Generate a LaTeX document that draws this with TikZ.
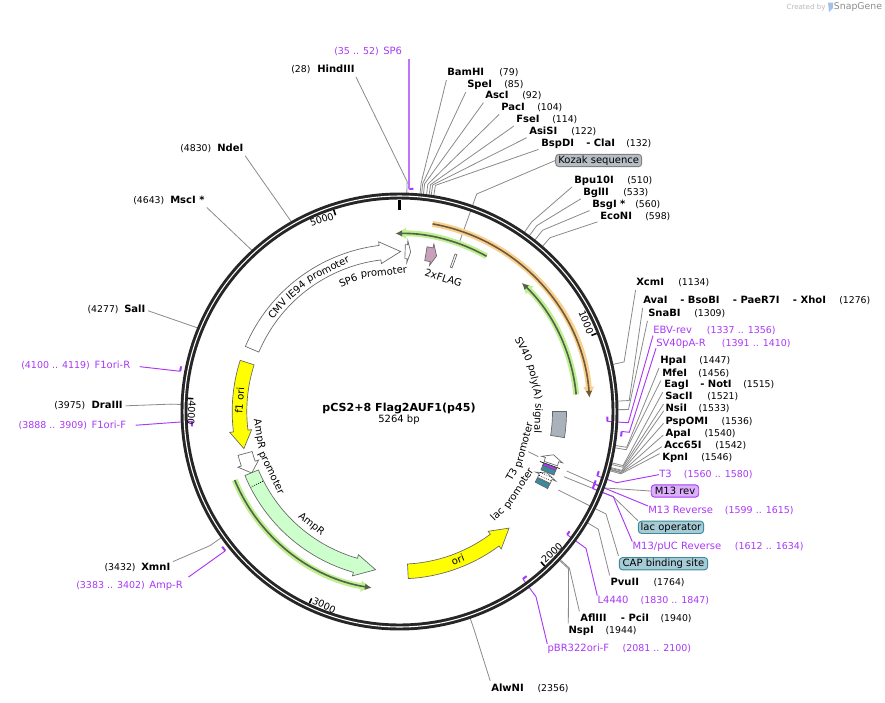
\documentclass[tikz,border=0pt]{standalone}
\usepackage{fontspec}
\setmainfont{DejaVu Sans}
\usepackage{xcolor}
\definecolor{cprim}{HTML}{A838F5}
\definecolor{csite}{HTML}{8A8A8A}
\definecolor{cring}{HTML}{262626}
\definecolor{cyel}{HTML}{FFFF00}
\definecolor{camp}{HTML}{CCFFCC}
\definecolor{cgrn}{HTML}{BDF08F}
\definecolor{cgrd}{HTML}{55614A}
\definecolor{corg}{HTML}{FAD08F}
\definecolor{cord}{HTML}{6E5A3A}
\definecolor{cflag}{HTML}{C9A0BC}
\definecolor{cgry}{HTML}{A9B1BA}
\definecolor{cteal}{HTML}{3A8BA0}
\usetikzlibrary{arrows.meta}
\newlength{\pxu}
\setlength{\pxu}{.75pt}
\newcommand{\labfont}{\fontsize{7.5}{9}\selectfont}
\newcommand{\numfont}{\fontsize{7}{9}\selectfont}
\newcommand{\rngfont}{\fontsize{7.1}{9}\selectfont}
% name, then its number at a fixed distance
\newcommand{\enz}[3]{\makebox[#1\pxu][l]{\bfseries #2}{\numfont(#3)}}
\newcommand{\enzl}[3]{\makebox[#1\pxu][l]{\numfont(#2)}{\bfseries #3}}
\newcommand{\prm}[3]{\makebox[#1\pxu][l]{#2}{\rngfont(#3)}}
\newcommand{\prml}[3]{\makebox[#1\pxu][l]{\rngfont(#2)}#3}
\newcommand{\sub}[2]{\makebox[#1\pxu][l]{#2}}
% [style] base angle, head angle, tip angle, radius, half width, half head
\newcommand{\featarrow}[7][]{%
  \pgfmathsetmacro{\rIn}{#5-#6}\pgfmathsetmacro{\rOut}{#5+#6}%
  \pgfmathsetmacro{\fIn}{#5-#7}\pgfmathsetmacro{\fOut}{#5+#7}%
  \draw[feat,#1] (#2:\rOut) arc[start angle=#2,end angle=#3,radius=\rOut] -- (#3:\fOut)
    -- (#4:#5) -- (#3:\fIn) -- (#3:\rIn) arc[start angle=#3,end angle=#2,radius=\rIn] -- cycle;}
\newcommand{\featblock}[3][]{%
  \draw[feat,#1] (#2:167) arc[start angle=#2,end angle=#3,radius=167] -- (#3:153)
    arc[start angle=#3,end angle=#2,radius=153] -- cycle;}
\newcommand{\featband}[5]{%
  \draw[-{Latex[length=8pt,width=9pt]},line width=4.4pt,#1] (#2:#4) arc[start angle=#2,end angle=#3,radius=#4];
  \draw[-{Latex[length=5pt,width=5pt]},line width=1.2pt,#5] (#2:#4) arc[start angle=#2,end angle=#3,radius=#4];}
% words along the circle: name, text, angle, radius of the baseline
\newcommand{\cwword}[4]{\node[arctext, rotate=#3-90] (#1) at (#3:#4) {#2};}
\newcommand{\ccword}[4]{\node[arctext, rotate=#3+90] (#1) at (#3:#4) {#2};}
% primer bar by base pairs, (name-a) and (name-b) at its two ends
\newcommand{\primbar}[4]{%
  \pgfmathsetmacro{\angA}{90-#2/5264*360}\pgfmathsetmacro{\angB}{90-#3/5264*360}%
  \draw[primer,line width=1.5pt] (\angA:#4) arc[start angle=\angA,end angle=\angB,radius=#4];
  \coordinate (#1-a) at (\angA:#4);
  \coordinate (#1-b) at (\angB:#4);}

\begin{document}
\begin{tikzpicture}[
  x=.75pt, y=.75pt,
  lab/.style={inner sep=0, anchor=west, font=\labfont, text height=5.7pt, text depth=1.3pt, yshift=-1.2pt},
  plab/.style={lab, text=cprim},
  site/.style={draw=csite, line width=.6pt, shorten <=2pt},
  primer/.style={draw=cprim, line width=.7pt},
  tag/.style={rectangle, rounded corners=2.5pt, line width=.7pt, minimum height=9.3pt, inner sep=0, font=\labfont},
  feat/.style={draw=black!60, line width=.5pt, fill=white},
  arctext/.style={inner sep=0, anchor=base, font=\labfont},
  ticklab/.style={inner sep=0, font=\fontsize{7.2}{9}\selectfont},
  tickm/.style={draw=black, line width=1.2pt},
]
  \useasboundingbox (0,0) rectangle (885,-703);
  \coordinate (cen) at (399.5,-411.5);

  % enzymes
  \node[lab] (hindiii) at (291,-68) {\enzl{26}{28}{HindIII}};
  \node[lab] (bamhi) at (447,-71) {\enz{52}{BamHI}{79}};
  \node[lab] (spei) at (467,-83) {\enz{37}{SpeI}{85}};
  \node[lab] (asci) at (485,-94) {\enz{37}{AscI}{92}};
  \node[lab] (paci) at (501,-106) {\enz{36}{PacI}{104}};
  \node[lab] (fsei) at (516,-118) {\enz{36}{FseI}{114}};
  \node[lab] (asisi) at (529,-130) {\enz{42}{AsiSI}{122}};
  \node[lab] (bspdi) at (541,-142) {\enz{85}{\sub{45}{BspDI}- ClaI}{132}};
  \node[lab] (bpu) at (574,-178.7) {\enz{53}{Bpu10I}{510}};
  \node[lab] (bglii) at (583,-191) {\enz{40}{BglII}{533}};
  \node[lab] (bsgi) at (592,-203) {\enz{43}{BsgI *}{560}};
  \node[lab] (econi) at (600,-214.5) {\enz{45}{EcoNI}{598}};
  \node[lab] (xcmi) at (636,-281) {\enz{42}{XcmI}{1134}};
  \node[lab] (avai) at (643,-299) {\enz{196}{\sub{37}{AvaI}\sub{52.7}{- BsoBI}\sub{60}{- PaeR7I}- XhoI}{1276}};
  \node[lab] (snabi) at (648,-311.7) {\enz{46}{SnaBI}{1309}};
  \node[lab] (hpai) at (660,-359) {\enz{39}{HpaI}{1447}};
  \node[lab] (mfei) at (662,-371.7) {\enz{36}{MfeI}{1456}};
  \node[lab] (eagi) at (664,-383.3) {\enz{79}{\sub{36}{EagI}- NotI}{1515}};
  \node[lab] (sacii) at (665,-395.3) {\enz{42}{SacII}{1521}};
  \node[lab] (nsii) at (665.3,-407) {\enz{33}{NsiI}{1533}};
  \node[lab] (pspomi) at (665.3,-419.7) {\enz{56}{PspOMI}{1536}};
  \node[lab] (apai) at (665.3,-431.7) {\enz{39}{ApaI}{1540}};
  \node[lab] (acc) at (664,-443.7) {\enz{51}{Acc65I}{1542}};
  \node[lab] (kpni) at (662,-455.7) {\enz{39}{KpnI}{1546}};
  \node[lab] (pvuii) at (610.3,-581.3) {\enz{43}{PvuII}{1764}};
  \node[lab] (afliii) at (580,-617.3) {\enz{80.3}{\sub{40.7}{AflIII}- PciI}{1940}};
  \node[lab] (nspi) at (568.3,-629.3) {\enz{37}{NspI}{1944}};
  \node[lab] (alwni) at (491,-686.7) {\enz{46.3}{AlwNI}{2356}};
  \node[lab] (ndei) at (180,-147) {\enzl{37}{4830}{NdeI}};
  \node[lab] (msci) at (133,-199) {\enzl{37}{4643}{MscI *}};
  \node[lab] (sali) at (87.3,-308.3) {\enzl{36.7}{4277}{SalI}};
  \node[lab] (draiii) at (54,-404.3) {\enzl{37.3}{3975}{DraIII}};
  \node[lab] (xmni) at (104.3,-566) {\enzl{36.7}{3432}{XmnI}};

  % primers
  \node[plab] (sp6) at (334,-50) {\prml{49}{35 .. 52}{SP6}};
  \node[plab] (ebv) at (653,-329) {\prm{53.7}{EBV-rev}{1337 .. 1356}};
  \node[plab] (sv40r) at (656,-341.7) {\prm{65.7}{SV40pA-R}{1391 .. 1410}};
  \node[plab] (t3) at (659,-473) {\prm{24.7}{T3}{1560 .. 1580}};
  \node[plab] (m13r) at (648,-509.3) {\prm{76.7}{M13 Reverse}{1599 .. 1615}};
  \node[plab] (m13p) at (632.3,-545) {\prm{102.4}{M13/pUC Reverse}{1612 .. 1634}};
  \node[plab] (l4440) at (597.3,-599) {\prm{43}{L4440}{1830 .. 1847}};
  \node[plab] (pbr) at (547.3,-647.3) {\prm{75}{pBR322ori-F}{2081 .. 2100}};
  \node[plab] (f1r) at (21,-364) {\prml{73.3}{4100 .. 4119}{F1ori-R}};
  \node[plab] (f1f) at (18.3,-424.3) {\prml{73}{3888 .. 3909}{F1ori-F}};
  \node[plab] (ampf) at (76,-584.3) {\prml{73}{3383 .. 3402}{Amp-R}};

  % tags
  \node[tag, draw=black!50, fill=cgry!85!white, minimum width=64.5pt] (kozak) at (598.7,-160.5) {Kozak sequence};
  \node[tag, draw=cprim, fill=cprim!40, minimum width=35.6pt] (m13tag) at (675,-491) {M13 rev};
  \node[tag, draw=cteal, fill=cteal!45, minimum width=49pt] (lactag) at (671,-527.3) {lac operator};
  \node[tag, draw=cteal, fill=cteal!45, minimum width=66.3pt] (captag) at (663.5,-563.7) {CAP binding site};

  \node[font=\fontsize{8.3}{10}\selectfont\bfseries] (title) at (399,-408) {pCS2+8 Flag2AUF1(p45)};
  \node[font=\labfont] (size) at (399,-420) {5264 bp};

  % logo
  \node[text=black!28, font=\fontsize{5.3}{6}\selectfont, inner sep=0] (made) at (806,-7.5) {Created by};
  \node[text=black!45, font=\fontsize{7}{8}\selectfont, inner sep=0] (snap) at (858,-7.5) {SnapGene};
  \fill[cyan!55!blue!35] (828,-2.5) -- (833,-2.5) -- (833,-8) -- (829,-12) -- cycle;

  \begin{scope}[shift={(cen)}]
    % connectors of the enzymes: name/bp/elbow radius/anchor
    \foreach \nm/\p/\r/\an in {hindiii/28/230/south east, bamhi/79/229/south west, spei/85/229/south west,
      asci/92/229/south west, paci/104/229/south west, fsei/114/229/south west, asisi/122/229/south west,
      bspdi/132/229/south west, bpu/510/231/south west, bglii/533/231/south west, bsgi/560/231/south west,
      econi/598/230/south west, xcmi/1134/230/south west, avai/1276/230/south west, snabi/1309/229/south west,
      hpai/1447/230/south west, mfei/1456/230/south west, eagi/1515/230/south west, sacii/1521/230/south west,
      nsii/1533/230/west, pspomi/1536/230/west, apai/1540/230/west, acc/1542/230/west, kpni/1546/230/north west,
      pvuii/1764/231/north west, afliii/1940/231/north west, nspi/1944/231/north west, alwni/2356/230/north west,
      xmni/3432/232/north east, draiii/3975/229/east, sali/4277/218/east, msci/4643/218/south east, ndei/4830/218/south east}{
      \pgfmathsetmacro{\ang}{90-\p/5264*360}
      \coordinate (\nm-e) at (\ang:\r);
      \coordinate (\nm-r) at (\ang:218);
      \draw[site] (\nm.\an) -- (\nm-e) -- (\nm-r);
    }

    % connectors of the tags
    \coordinate (koz-e) at (77.2,217.5);
    \coordinate (koz-f) at (60,169.5);
    \draw[site, shorten <=0pt] (kozak.west) -- (koz-e) -- (koz-f);
    \coordinate (m13-a) at (167.2,-59.5);
    \coordinate (m13-e) at (205.5,-76.5);
    \draw[site, shorten <=0pt] (m13tag.west) -- (m13-e) -- (m13-a);
    \coordinate (lac-a) at (164.5,-65.2);
    \coordinate (lac-e) at (213.8,-85.2);
    \draw[site, shorten <=0pt] (lactag.north west) -- (lac-e) -- (lac-a);
    \coordinate (cap-a) at (158.8,-78.5);
    \coordinate (cap-e) at (206.5,-102.5);
    \draw[site, shorten <=1pt] (captag.north west) -- (cap-e) -- (cap-a);
    \coordinate (t3p-l) at (128.8,-40.2);
    \coordinate (t3p-a) at (138.8,-45.2);
    \draw[site, shorten <=0pt] (t3p-l) -- (t3p-a);

    % primers
    \primbar{sp6}{35}{52}{223}
    \primbar{ebv}{1337}{1356}{208}
    \primbar{sv40r}{1391}{1410}{223}
    \primbar{t3}{1560}{1580}{208}
    \primbar{m13r}{1599}{1615}{208}
    \primbar{m13p}{1612}{1634}{208}
    \primbar{l4440}{1830}{1847}{208}
    \primbar{pbr}{2081}{2100}{208}
    \primbar{f1r}{4100}{4119}{223}
    \primbar{f1f}{3888}{3909}{208}
    \primbar{ampf}{3383}{3402}{223}
    \draw[primer, draw=cprim!70, line width=1.3pt, shorten <=2pt] (sp6-a |- sp6.south) -- (sp6-a);
    \draw[primer] (ebv-b) -- (228.8,-11.2) -- (ebv.south west);
    \draw[primer] (sv40r-a) -- (229.8,-20.8) -- (sv40r.south west);
    \draw[primer] (t3-b) -- (217.2,-71.2) -- (t3.west);
    \draw[primer] (m13r-b) -- (205.5,-76.8) -- (m13r.north west);
    \draw[primer] (m13p-b) -- (213.8,-85.2) -- (m13p.north west);
    \draw[primer] (l4440-b) -- (186.5,-136.8) -- (l4440.north west);
    \draw[primer] (pbr-b) -- (136.5,-185.2) -- (pbr.north west);
    \draw[primer, shorten >=7pt] (f1r-a) -- (f1r.east);
    \draw[primer, shorten >=7pt] (f1f-b) -- (f1f.east);
    \draw[primer, shorten >=5pt] (ampf-a) -- (ampf.north east);

    % outer circle
    \draw[cring, line width=5.2pt] (0,0) circle[radius=215.5];
    \draw[white, line width=.8pt] (0,0) circle[radius=215.5];
    \draw[black, line width=2.2pt] (90:212) -- (90:201.5);
    \foreach \p in {1000,2000,3000,4000,5000}{
      \pgfmathsetmacro{\ang}{90-\p/5264*360}
      \draw[tickm] (\ang:212) -- (\ang:206.5);
    }
    \node[ticklab, rotate=-68.4, anchor=base east] (t1000) at (22.1:203) {1000};
    \node[ticklab, rotate=43.2, anchor=base west] (t2000) at (-46.3:211) {2000};
    \node[ticklab, rotate=-25.2, anchor=base west] (t3000) at (-114.7:211) {3000};
    \node[ticklab, rotate=-93.6, anchor=base west] (t4000) at (-183.1:211) {4000};
    \node[ticklab, rotate=18.1, anchor=base east] (t5000) at (108.6:203) {5000};

    % arcs with a band
    \featband{corg}{80}{4.2}{190.5}{cord}
    \featband{cgrn}{60.7}{91.3}{178}{cgrd}
    \featband{cgrn}{5.5}{46.4}{177.5}{cgrd}
    \featband{cgrn}{202.6}{261}{178.5}{cgrd}

    % features
    \featarrow{157.1}{97}{89.6}{160}{7.3}{11}
    \featarrow[fill=cyel]{162.2}{187}{193.4}{160}{7.3}{11}
    \featarrow{195.2}{199}{202.6}{160}{7.3}{11}
    \featarrow[fill=camp]{202.5}{254}{261.4}{160}{7.3}{11}
    \draw[black, densely dotted, line width=.6pt] (207:153.5) -- (207:166.5);
    \featarrow[fill=cyel]{273}{306.5}{313.2}{160}{7.3}{11}
    \featarrow[fill=cflag]{80.5}{78.4}{76.6}{160}{7}{11}
    \featarrow{88}{87.2}{86}{160}{7}{11}
    \featblock{70.6}{69.9}
    \featblock[fill=cgry]{0}{-9}
    \featarrow{-19}{-17.5}{-15.7}{160}{7}{11}
    \featarrow{-25.5}{-24}{-22.6}{160}{7}{11}
    \draw[black, densely dotted, line width=.5pt] (-23.4:153.5) -- (-23.4:166.5);
    \draw[black, densely dotted, line width=.5pt] (-24.6:153.5) -- (-24.6:166.5);
    \draw[black, line width=.5pt] (-19.6:149) -- (-19.6:170);
    \featblock[fill=cprim, draw=black!70]{-19.7}{-20.7}
    \featblock[fill=cteal, draw=black!60]{-20.7}{-22.4}
    \featblock[fill=cteal, draw=black!60]{-25.7}{-27.5}

    % texts on the arcs
    \cwword{cmv}{CMV}{139.9}{156}
    \cwword{ie94}{IE94}{130.5}{156}
    \cwword{cmvp}{promoter}{116.7}{156}
    \cwword{sp6w}{SP6}{111.4}{137}
    \cwword{sp6p}{promoter}{96.4}{137}
    \cwword{flag}{2xFLAG}{71.8}{137}
    \cwword{sv40w}{SV40}{26.7}{135.5}
    \cwword{polya}{poly(A)}{12.3}{135.5}
    \cwword{signal}{signal}{-2.8}{135.5}
    \ccword{t3w}{T3}{-29.3}{132}
    \ccword{t3p}{promoter}{-15.1}{132}
    \ccword{lacw}{lac}{-46.3}{145}
    \ccword{lacp}{promoter}{-32.9}{145}
    \ccword{ampw}{AmpR}{189.1}{145}
    \ccword{ampp}{promoter}{205.6}{145}
    \ccword{ampr}{AmpR}{232}{146}
    \cwword{f1ori}{f1 ori}{176}{156.5}
    \ccword{oriw}{ori}{-68.5}{163}
  \end{scope}
\end{tikzpicture}
\end{document}
